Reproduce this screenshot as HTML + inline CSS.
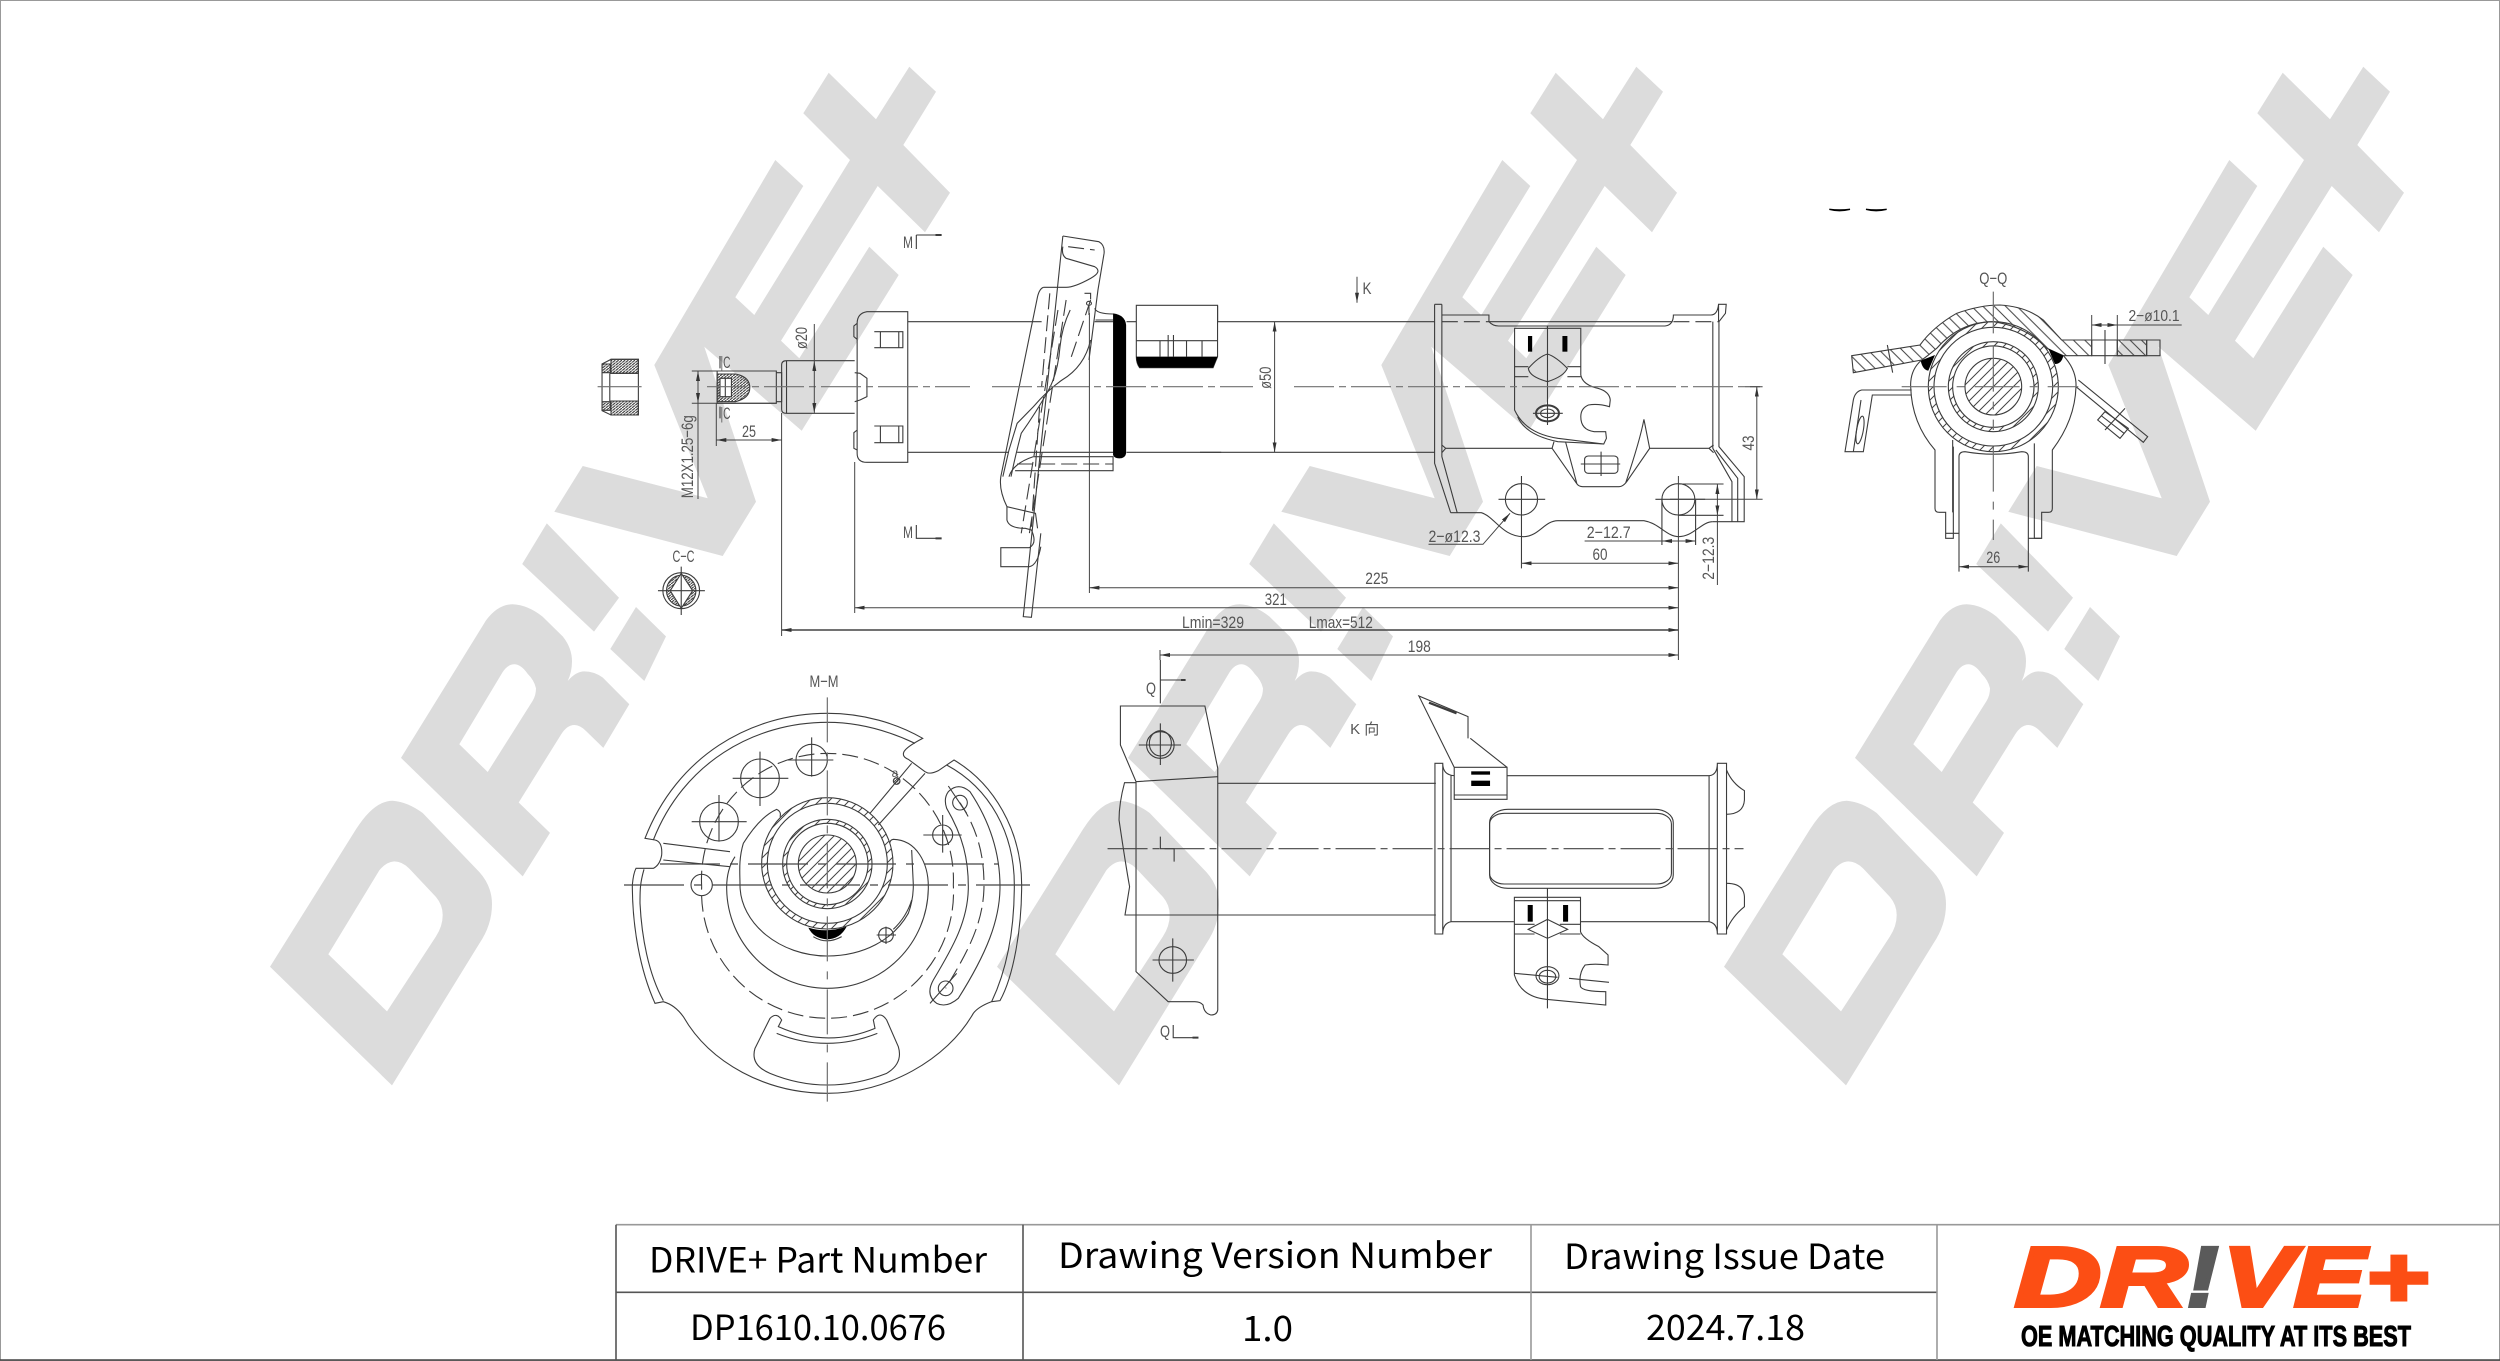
<!DOCTYPE html>
<html lang="en"><head><meta charset="utf-8"><title>DP1610.10.0676</title>
<style>
html,body{margin:0;padding:0;background:#fff}
svg{display:block}
.s *{vector-effect:non-scaling-stroke}
.s{fill:none;stroke:#3c3c3c;stroke-width:1.1}
.c{stroke:#707070;stroke-width:1.2;fill:none}
.dash{stroke-dasharray:16 6}
.cd{stroke-dasharray:40 5 7 5}
.k{fill:#000;stroke:none}
.d{fill:none;stroke:#444;stroke-width:1}
.ar{marker-start:url(#a);marker-end:url(#a)}
.t{font-family:"Liberation Sans",sans-serif;font-size:17px;fill:#555;text-anchor:middle}
.b{font-family:"Liberation Sans","Noto Sans CJK SC",sans-serif;font-size:17px;fill:#555;text-anchor:middle}
.h{font-family:"Noto Sans CJK SC","Liberation Sans",sans-serif;font-size:35px;fill:#000}
</style></head><body>
<svg xmlns="http://www.w3.org/2000/svg" width="2500" height="1361" viewBox="0 0 2500 1361">
<defs>
<marker id="a" viewBox="0 0 10 4" refX="10" refY="2" markerWidth="10" markerHeight="4" markerUnits="userSpaceOnUse" orient="auto-start-reverse"><path d="M0,0L10,2L0,4z" fill="#333"/></marker>
<pattern id="hf" width="30" height="30" patternUnits="userSpaceOnUse"><path d="M-5,35L35,-5M-20,20L20,-20M10,50L50,10" stroke="#444" stroke-width="3"/></pattern>
<pattern id="hb" width="34" height="34" patternUnits="userSpaceOnUse"><path d="M-5,-5L39,39M-22,12L22,56M12,-22L56,22" stroke="#444" stroke-width="3"/></pattern>
<pattern id="hn" width="8" height="8" patternUnits="userSpaceOnUse"><path d="M-2,10L10,-2" stroke="#333" stroke-width="3"/></pattern>
<g id="wm"><title>DR!VE+ watermark</title>
<path fill-rule="evenodd" d="M2008.3,511.7L2036.7,466L2161.7,498.3L2108.3,365L2229.3,160L2257.3,186L2189.3,297.3L2208.3,315L2304,160L2257.3,113.3L2282.7,72.7L2330,119.3L2363.3,66.7L2390,91.7L2357.3,145L2404,192.7L2379,232.3L2331.7,186L2235,340.7L2253.3,358.3L2323.3,246.7L2352.7,275L2255.7,430.7L2158.3,346.7L2210,501.7L2176.7,556Z"/>
<path fill-rule="evenodd" d="M1724,966.8L1810,829.3Q1828,800.7 1846.7,800.7Q1862,802 1876.7,813L1933.3,872Q1946,886 1946,904.3Q1946,925 1933.3,943.6L1846,1085.4ZM1782.3,954.3L1841,1011.4L1890,936.4Q1896.7,926 1896.7,915Q1896.7,905 1890,897L1863.3,868.6Q1856,861.4 1848.3,861.4Q1840,862 1833.3,870.4Z"/>
<path fill-rule="evenodd" d="M1855,757.9L1940,620.4Q1952,604.3 1966.7,604.3Q1982,605 1996.7,616.8L2016.7,636.4Q2026,648 2026,661.4Q2026,672 2021.7,681Q2030,671.4 2038.3,671.4Q2048,671.4 2056.7,677.5L2083.3,704.3L2057.3,747.9L2040,731Q2034,725 2028.3,725Q2021,725 2015,734.6L1972.7,802.5L2004,832.9L1976.7,876.4ZM1913.3,744.3L1941.7,772L1986.7,700.7Q1990,695 1990,688.2Q1988,680 1981.7,673.9Q1975,664.3 1968.3,664.3Q1962,664.3 1956.7,672Z"/>
<path d="M1976.2,564L2000.8,523.4L2073,597.8L2048,631.6Z"/>
<path d="M2090,607L2120,636.4L2098.3,681L2064.3,649Z"/>
</g>
</defs>
<rect width="2500" height="1361" fill="#fff"/>
<rect x=".5" y=".5" width="2499" height="1360" fill="none" stroke="#999"/>
<g fill="#dcdcdc">
<use href="#wm" transform="translate(-1454,0)"/>
<use href="#wm" transform="translate(-727,0)"/>
<use href="#wm"/>
</g>

<!-- side view left part -->
<g class="s" transform="translate(560,200) scale(.40816,.33333)">
<path d="M192,478H125L103,492V632L125,645H192Z"/>
<rect x="125" y="478" width="67" height="42" fill="url(#hn)"/><rect x="125" y="603" width="67" height="42" fill="url(#hn)"/>
<rect x="103" y="492" width="20" height="26" fill="url(#hn)"/><rect x="103" y="605" width="20" height="26" fill="url(#hn)"/>
<path d="M122,520V603M122,520H192M122,603H192"/>
<path d="M385,513H530V610H385ZM530,518H543V605H530"/>
<path d="M385,522H430Q465,530 465,563Q465,595 430,605H385Z" fill="url(#hn)"/>
<path d="M392,535H420V590H392ZM405,535V590" fill="#fff"/>
<path d="M722,482H555Q543,482 543,495V628Q543,640 555,640H722M555,482V640"/>
<path d="M852,335H752Q728,340 728,370V760Q728,787 752,787H852ZM728,370L720,378V410L728,418M728,690L720,698V745L728,750"/>
<path d="M722,518L735,520L752,535V590L735,600L722,605"/>
<path d="M770,395H840V443H770M785,395V443M830,395V443M770,678H840V728H770M785,678V728M830,678V728"/>
<path d="M852,365H1180M1310,365H1355M852,757H1100M1120,757H1355M1160,770H1355V812H1115M1388,365H1412M1388,757H1620"/>
<path class="dash" d="M1120,792H1355"/>
<path d="M1232,108L1135,1250L1155,1252L1178,1000M1232,108L1320,125Q1335,135 1333,160L1318,270L1296,480"/>
<path d="M1185,262Q1175,265 1170,290L1080,830Q1075,870 1095,920V960Q1100,985 1140,985L1155,990Q1170,1030 1150,1043H1080V1100H1150Q1170,1095 1178,1040"/>
<path d="M1185,262H1240Q1260,262 1300,235Q1330,215 1310,200L1240,175Q1228,165 1232,140M1095,920L1165,940L1170,985M1100,830Q1110,790 1160,770"/>
<path d="M1300,420Q1285,500 1230,540Q1195,570 1160,620L1120,670L1100,750L1085,830M1250,330Q1230,380 1225,440Q1220,520 1195,575Q1165,640 1130,700Q1115,770 1105,830"/>
<path class="dash" d="M1245,140L1310,150M1240,300L1150,1000M1220,330L1130,1000M1200,280L1180,560M1300,300L1250,480M1175,620L1155,980"/>
<path d="M1310,325Q1315,342 1355,342M1312,360H1355"/>
<circle cx="1296" cy="310" r="6"/><path d="M1285,280H1300V298M1296,316V345"/>
<path class="k" d="M1355,340Q1385,345 1387,375V760Q1385,775 1370,775Q1358,775 1355,765Z"/>
<path d="M1611,316H1412V470Q1412,490 1420,503H1600L1611,470ZM1412,422H1611V316M1470,422V470M1490,405V470M1503,405V470M1535,422V470M1573,422V470"/>
<path class="k" d="M1412,470H1611L1600,503H1420Q1412,490 1412,470Z"/>
<path d="M873,105V147M873,105H920M873,975V1015H920"/>
<path d="M920,105H935M920,1015H935" stroke-width="2"/>
<path d="M392,468V505M392,620V655"/>
<ellipse cx="297" cy="1172" rx="45" ry="54"/>
<ellipse cx="297" cy="1172" rx="36" ry="46" fill="url(#hn)"/>
<path d="M297,1120L325,1172L297,1225L270,1172Z" fill="#fff"/>
<path d="M240,1172H355M297,1100V1245"/>
</g>

<!-- side view right part -->
<g class="s" transform="translate(1200,260) scale(.3827,.33333)">
<path d="M613,133V610L655,758M632,133V590L672,758M613,133H632M632,165H755V185Q765,198 780,198H1215Q1237,195 1237,165H1335Q1352,165 1355,133H1375L1373,160L1356,185V560L1422,650V785H1340M1355,133V185"/>
<path d="M1340,185V565L1390,665V785M1348,570L1405,655V785M755,185H1235"/>
<path class="dash" d="M632,185H755M1237,185H1355"/>
<path d="M46,185H613M46,137V185M0,577H613"/>
<path d="M655,758H735C770,770 790,830 845,830C885,830 900,782 935,782H1160C1200,790 1220,830 1250,830C1290,830 1310,785 1340,785"/>
<path d="M640,565H920M1175,565H1330M632,555L642,565L632,578M1342,555L1330,565L1342,578"/>
<path d="M822,205H995V345Q1000,375 1040,385Q1070,395 1072,420L1070,440Q1040,430 1015,435Q995,445 995,470Q995,510 1030,515H1060L1062,535L1055,552L935,535Q850,520 822,450Z"/>
<path d="M830,470Q850,525 935,545L1055,552"/>
<rect class="k" x="857" y="228" width="11" height="47"/><rect class="k" x="947" y="228" width="13" height="47"/>
<path d="M908,282Q930,290 960,325Q950,350 908,365Q860,350 858,325Q885,290 908,282ZM822,320H858M822,350H858M960,320H995M960,350H995M908,197V495"/>
<ellipse cx="908" cy="460" rx="30" ry="24" stroke-width="2"/><ellipse cx="908" cy="460" rx="18" ry="13"/><path d="M870,460H948"/>
<path d="M925,545L920,565L985,672Q990,680 1000,680H1095Q1105,680 1115,665L1175,565L1160,478M955,545L985,672M1160,478Q1150,540 1112,670"/>
<rect x="1005" y="588" width="87" height="52" rx="10"/><path d="M1048,575V648M995,612H1098"/>
<ellipse cx="840" cy="718" rx="42" ry="47"/><path d="M780,718H902M840,648V925"/>
<ellipse cx="1250" cy="718" rx="43" ry="47"/><path d="M1190,718H1320M1207,718V855M1295,718V855M1250,672H1368M1250,766H1368"/>
</g>

<!-- Q-Q section -->
<g class="s" transform="translate(1800,180) scale(.33333)">
<path class="k" d="M88,88Q118,96 150,88Q118,92 88,88ZM198,88Q228,96 260,88Q228,92 198,88Z" style="stroke:#000;stroke-width:1.4"/>
<path d="M155,527L360,495Q400,440 470,400Q540,375 600,375Q680,380 730,420L785,480H875V527H790L740,505Q680,440 580,425Q480,425 410,505Q380,530 365,540L160,578Z" fill="url(#hb)"/>
<path d="M875,480H1080V527H875ZM952,480V527M1040,480V527"/>
<rect x="952" y="480" width="88" height="47" fill="url(#hb)"/>
<path d="M915,450V552M262,495L278,578"/>
<path fill="url(#hf)" fill-rule="evenodd" d="M385,620a195,195 0 1,0 390,0a195,195 0 1,0 -390,0zM402,620a178,178 0 1,0 356,0a178,178 0 1,0 -356,0z"/>
<path fill="url(#hf)" fill-rule="evenodd" d="M445,620a135,135 0 1,0 270,0a135,135 0 1,0 -270,0zM458,620a122,122 0 1,0 244,0a122,122 0 1,0 -244,0z"/>
<circle cx="580" cy="620" r="85" fill="url(#hf)"/>
<path class="k" d="M362,542L405,525Q392,555 385,572Q368,570 362,542ZM745,505L790,527Q785,552 765,552Q755,530 745,505Z"/>
<path d="M365,540Q330,570 332,620Q335,730 405,810V985Q405,997 418,997H437V1075H460V800M790,527Q830,570 828,620Q825,720 757,810V985Q757,997 745,997H725V1075H703V790"/>
<path d="M458,997V780M685,1075H725M437,1060H477"/>
<path d="M477,1175V830Q477,815 495,815Q580,830 665,815Q685,815 685,830V1175"/>
<path d="M335,630H185Q165,635 160,660L135,815H190L217,645H335M160,815L183,660"/>
<ellipse cx="180" cy="750" rx="10" ry="42" transform="rotate(10 180 750)"/>
<path d="M835,600L1043,770L1030,787L828,620"/>
<path d="M915,695L985,745L960,775L893,720ZM905,708L972,760M915,750L975,685"/>
<path class="c" d="M580,335V460M580,500V750M580,800V1080M305,620H835" stroke-dasharray="45 10 8 10"/>
</g>

<!-- M-M section -->
<g class="s" transform="translate(600,660) scale(.33333)">
<path d="M135,535C230,290 450,160 682,160C790,160 890,190 968,235Q920,260 912,275Q905,290 925,298L975,335Q990,345 1015,332L1062,300C1180,370 1265,510 1265,675C1265,810 1240,950 1200,1022L1175,1025Q1135,1040 1120,1060C1040,1200 860,1300 682,1300C500,1300 330,1210 250,1070Q225,1035 190,1025L165,1030C120,930 97,800 97,675Q100,640 108,625H160Q180,615 185,585Q188,545 165,540Z"/>
<path d="M160,540C250,310 460,187 682,187C770,187 860,210 945,250M1040,315C1170,385 1243,520 1243,675C1243,810 1220,930 1175,1025M132,628C120,670 120,690 120,730C125,830 145,940 190,1022"/>
<path d="M190,550L390,575M190,600L390,620M810,460L935,310M835,495L975,340"/>
<path d="M510,1075Q530,1055 545,1080L535,1100Q680,1165 825,1105L820,1080Q840,1050 860,1080L895,1160Q910,1210 860,1240Q680,1310 510,1240Q450,1215 465,1165ZM530,1120Q680,1180 832,1120"/>
<path fill="url(#hf)" fill-rule="evenodd" d="M485,610a197,197 0 1,0 394,0a197,197 0 1,0 -394,0zM502,610a180,180 0 1,0 360,0a180,180 0 1,0 -360,0z"/>
<path fill="url(#hf)" fill-rule="evenodd" d="M548,612a134,134 0 1,0 268,0a134,134 0 1,0 -268,0zM560,612a122,122 0 1,0 244,0a122,122 0 1,0 -244,0z"/>
<circle cx="682" cy="612" r="87" fill="url(#hf)"/>
<path class="k" d="M625,803Q680,820 740,800Q720,838 680,838Q640,835 625,803Z"/>
<path d="M640,830Q680,855 725,830"/>
<circle cx="635" cy="300" r="47"/><circle cx="480" cy="355" r="58"/><circle cx="357" cy="485" r="58"/><circle cx="305" cy="675" r="32"/><circle cx="1028" cy="525" r="30"/><circle cx="858" cy="825" r="22"/><circle cx="1080" cy="428" r="22"/><circle cx="1037" cy="985" r="22"/><circle cx="890" cy="363" r="10" fill="url(#hn)"/>
<path d="M275,485H440M357,405V545M398,355H565M480,275V438M562,300H700M635,232V350M970,525H1085M1028,465V578M830,825H888M858,800V852M1045,378L1100,460M990,1030L1070,940"/>
<path class="dash" d="M305,680A378,378 0 1,1 1060,675A378,378 0 1,1 305,680"/>
<path d="M405,590C385,620 380,650 380,682C380,850 515,985 682,985C850,985 985,850 985,680C985,610 950,540 880,538Q870,540 870,548"/>
<path d="M430,550C415,600 420,640 420,675C420,790 540,888 682,888C790,888 880,840 925,760Q940,720 940,675L935,570M430,550Q480,470 530,448Q545,455 540,470M880,808Q920,770 935,720"/>
<path d="M1045,395Q1075,365 1110,395C1180,500 1200,600 1200,680C1200,780 1160,880 1075,1015Q1040,1045 1010,1030Q975,1005 1000,960C1060,860 1105,780 1105,680C1105,600 1090,530 1040,445Q1030,415 1045,395Z"/>
<path class="dash" d="M1080,428C1140,520 1152,600 1152,675C1152,790 1100,880 1037,985"/>
<path class="c" d="M682,112V1325" stroke-dasharray="45 10 8 10"/>
<path class="c" d="M72,675H1290M180,612H1195" stroke-dasharray="60 10 8 10" style="stroke:#444"/>
</g>

<!-- K view -->
<g class="s" transform="translate(1080,660) scale(.45918,.33333)">
<path d="M88,138H272L300,325V1050Q298,1065 285,1065Q270,1060 268,1035Q262,1025 250,1025H192L122,935V365L88,255Z"/>
<path d="M122,365L300,350M122,368H97Q85,430 85,480Q100,620 108,680L98,765H300M300,370H775M300,765H775"/>
<ellipse cx="175" cy="255" rx="30" ry="40"/><ellipse cx="175" cy="250" rx="24" ry="38"/><path d="M128,255H220M175,190V315"/>
<ellipse cx="202" cy="900" rx="30" ry="40"/><path d="M158,900H248M202,835V965"/>
<path d="M175,530V566H205V605M175,0V130M175,60H220M203,1095V1133H245"/>
<path d="M220,60H230M245,1133H258" stroke-width="2"/>
<path d="M773,310H790V822H773ZM808,345V785M790,310Q790,345 815,347M930,347H1370M808,785H945M1090,785H1370M790,822Q790,790 808,785"/>
<path d="M815,322H930V418H815ZM815,405H930M815,322L738,108L845,170V235M930,322L850,235"/>
<rect class="k" x="852" y="334" width="41" height="10"/><rect class="k" x="852" y="362" width="41" height="16"/>
<path d="M760,128L820,160" stroke-width="2.2"/>
<rect x="892" y="448" width="400" height="237" rx="40"/>
<rect x="892" y="460" width="396" height="212" rx="32"/>
<path d="M1370,347Q1388,345 1388,310H1408V822H1388Q1388,790 1370,785M1370,347V785M1388,310V822"/>
<path d="M1408,330Q1420,370 1447,392V420Q1445,462 1408,463M1408,670Q1445,670 1447,710V740Q1420,770 1408,810"/>
<path d="M946,712H1090V815Q1095,835 1130,860L1150,885V915Q1120,910 1100,915Q1085,940 1090,980Q1095,995 1145,995V1035L1015,1018Q960,1010 946,945ZM946,722H1090"/>
<rect class="k" x="975" y="735" width="11" height="50"/><rect class="k" x="1052" y="735" width="11" height="50"/>
<path d="M1018,778L1062,808L1018,835L976,808ZM946,793H990M946,822H990M1045,793H1090M1045,822H1090M1018,685V1045"/>
<ellipse cx="1018" cy="947" rx="25" ry="27"/><ellipse cx="1018" cy="950" rx="18" ry="19"/>
<path d="M946,940L1040,952M1065,955L1152,967"/>
<path class="c cd" d="M60,566H1445" style="stroke:#444"/>
</g>

<!-- centreline -->
<path class="c cd" d="M707,386.7H970M992,386.7H1253M1294,386.7H1760"/>
<path class="c" d="M597.6,386.7H641.6"/>

<!-- dimensions -->
<g class="d">
<path d="M814.3,324V361"/><path class="ar" d="M814.3,361V413"/>
<path d="M691.8,371H776M691.8,403.3H776"/><path class="ar" d="M698,371V403"/><path d="M698,403V499"/>
<path class="ar" d="M716.3,440H781.6"/><path d="M716.3,403V446M781.6,413V636M854.7,462V613M1089.4,313V593M1160,650V660M1678.4,476V660"/>
<path class="ar" d="M1089.4,587.7H1678.4"/><path class="ar" d="M854.7,607.7H1678.4"/><path class="ar" d="M781.6,630H1678.4" style="stroke-width:1.4"/><path class="ar" d="M1160,655H1678.4"/>
<path class="ar" d="M1274.6,321.7V452.3"/><path d="M1745,386.7H1762.6M1670,499.3H1762.6"/><path class="ar" d="M1756.8,386.7V499.3"/>
<path class="ar" d="M1521.5,563.3H1678.4"/><path d="M1521.5,563V568"/>
<path d="M1584.6,541H1662"/><path class="ar" d="M1662,541H1695.6"/>
<path class="ar" d="M1717.4,484V515.3"/><path d="M1717.4,515V585"/>
<path d="M1428.5,544.3H1483L1510,513.3" marker-end="url(#a)"/>
<path d="M1357,276.7V302.7" marker-end="url(#a)"/>
<path class="ar" d="M1959,566.7H2028.3"/>
<path d="M2091.7,315V356M2117.3,315V356M2117.3,325H2181.7"/><path class="ar" d="M2091.7,325H2117.3"/>
</g>

<!-- drawing labels (narrowed to match the CAD font) -->
<g lengthAdjust="spacingAndGlyphs">
<text class="t" transform="translate(807,338) rotate(-90)" textLength="22" lengthAdjust="spacingAndGlyphs">&#248;20</text>
<text class="t" transform="translate(693,456.7) rotate(-90)" textLength="83" lengthAdjust="spacingAndGlyphs">M12X1.25&#8722;6g</text>
<text class="t" x="749" y="437" textLength="14" lengthAdjust="spacingAndGlyphs">25</text>
<text class="t" x="725.5" y="368" textLength="10" lengthAdjust="spacingAndGlyphs">|C</text><text class="t" x="725.5" y="419" textLength="10" lengthAdjust="spacingAndGlyphs">|C</text>
<text class="t" x="908" y="248" textLength="10" lengthAdjust="spacingAndGlyphs">M</text><text class="t" x="908" y="538" textLength="10" lengthAdjust="spacingAndGlyphs">M</text>
<text class="t" x="683.5" y="562" textLength="22" lengthAdjust="spacingAndGlyphs">C&#8722;C</text>
<text class="t" transform="translate(1271,377.7) rotate(-90)" textLength="22" lengthAdjust="spacingAndGlyphs">&#248;50</text>
<text class="t" x="1367" y="294" textLength="9" lengthAdjust="spacingAndGlyphs">K</text>
<text class="t" transform="translate(1754,443) rotate(-90)" textLength="15" lengthAdjust="spacingAndGlyphs">43</text>
<text class="t" x="1454.5" y="542" textLength="52" lengthAdjust="spacingAndGlyphs">2&#8722;&#248;12.3</text>
<text class="t" x="1608.7" y="538" textLength="44" lengthAdjust="spacingAndGlyphs">2&#8722;12.7</text>
<text class="t" x="1600" y="560" textLength="15" lengthAdjust="spacingAndGlyphs">60</text>
<text class="t" transform="translate(1714,558.3) rotate(-90)" textLength="43" lengthAdjust="spacingAndGlyphs">2&#8722;12.3</text>
<text class="t" x="1376.8" y="584" textLength="23" lengthAdjust="spacingAndGlyphs">225</text>
<text class="t" x="1275.8" y="605" textLength="22" lengthAdjust="spacingAndGlyphs">321</text>
<text class="t" x="1213" y="628" textLength="62" lengthAdjust="spacingAndGlyphs">Lmin=329</text>
<text class="t" x="1340.8" y="628" textLength="64" lengthAdjust="spacingAndGlyphs">Lmax=512</text>
<text class="t" x="1419.3" y="652" textLength="23" lengthAdjust="spacingAndGlyphs">198</text>
<text class="t" x="1993.3" y="284" textLength="28" lengthAdjust="spacingAndGlyphs">Q&#8722;Q</text>
<text class="b" x="2154" y="321" style="font-size:16px" textLength="51" lengthAdjust="spacingAndGlyphs">2&#8722;&#248;10.1</text>
<text class="t" x="1993.3" y="563" textLength="14" lengthAdjust="spacingAndGlyphs">26</text>
<text class="t" x="824" y="687" textLength="29" lengthAdjust="spacingAndGlyphs">M&#8722;M</text>
<text class="t" x="895" y="777" style="font-size:12px">a</text>
<text class="t" x="1151" y="694" textLength="10" lengthAdjust="spacingAndGlyphs">Q</text>
<text class="t" x="1165" y="1037" textLength="10" lengthAdjust="spacingAndGlyphs">Q</text>
</g>
<text x="1364.7" y="734" style="font-family:'Liberation Sans','Noto Sans CJK SC',sans-serif;font-size:15px;fill:#555;text-anchor:middle">K 向</text>

<!-- title block -->
<g stroke="#555" stroke-width="1.6" fill="none">
<path d="M616,1224.7H2500" stroke="#999"/>
<path d="M616,1292.3H1937"/>
<path d="M0,1360H2500" stroke="#444"/>
<path d="M616,1224.7V1360M1023,1224.7V1360"/>
<path d="M1531,1224.7V1360M1937,1224.7V1360" stroke="#999"/>
</g>
<text class="h" x="649" y="1272.5" textLength="338" lengthAdjust="spacingAndGlyphs">DRIVE+ Part Number</text>
<text class="h" x="690" y="1340" textLength="256" lengthAdjust="spacingAndGlyphs">DP1610.10.0676</text>
<text class="h" x="1058" y="1268" textLength="434" lengthAdjust="spacingAndGlyphs">Drawing Version Number</text>
<text class="h" x="1242" y="1341" textLength="51" lengthAdjust="spacingAndGlyphs">1.0</text>
<text class="h" x="1564" y="1269" textLength="321" lengthAdjust="spacingAndGlyphs">Drawing Issue Date</text>
<text class="h" x="1646" y="1340" textLength="159" lengthAdjust="spacingAndGlyphs">2024.7.18</text>

<!-- logo -->
<g style="font-family:'Liberation Sans',sans-serif;font-weight:bold;font-style:italic;font-size:84px">
<text x="2015" y="1306" textLength="172" lengthAdjust="spacingAndGlyphs" fill="#fc4e14" stroke="#fc4e14" stroke-width="4">DR</text>
<text x="2187" y="1306" textLength="31" lengthAdjust="spacingAndGlyphs" fill="#5a5a5a" stroke="#5a5a5a" stroke-width="4">!</text>
<text x="2223" y="1306" textLength="205" lengthAdjust="spacingAndGlyphs" fill="#fc4e14" stroke="#fc4e14" stroke-width="4">VE+</text>
</g>
<text x="2021" y="1346" textLength="390" lengthAdjust="spacingAndGlyphs" style="font-family:'Liberation Sans',sans-serif;font-weight:bold;font-size:29px" fill="#000" stroke="#000" stroke-width="1">OE MATCHING QUALITY AT ITS BEST</text>
</svg>
</body></html>
